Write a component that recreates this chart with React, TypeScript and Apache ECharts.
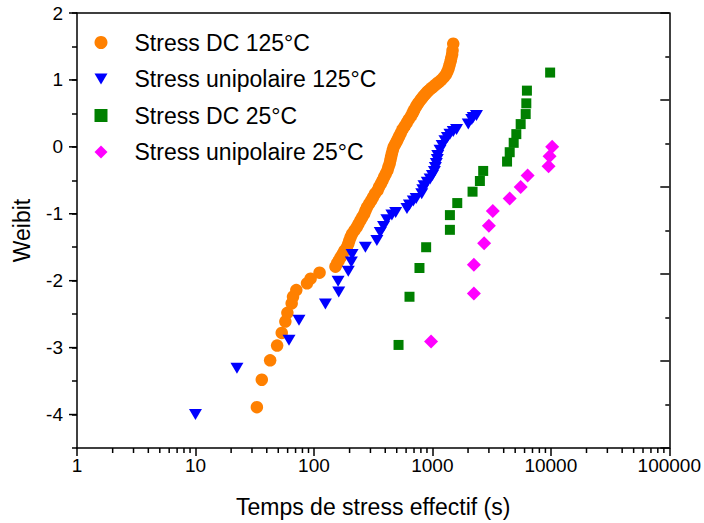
import React, { useEffect, useRef } from "react";
import * as echarts from "echarts";

const legendNames = [
  "Stress DC 125°C",
  "Stress unipolaire 125°C",
  "Stress DC 25°C",
  "Stress unipolaire 25°C",
];

const dc125: number[][] = [
  [33, -3.89], [36.3, -3.48], [42.7, -3.19], [48.9, -2.97], [53.5, -2.78],
  [57.4, -2.61], [59.7, -2.48], [64.9, -2.34], [66.6, -2.24], [71, -2.14],
  [87.4, -2.04], [93.8, -1.97], [111.6, -1.88], [152, -1.79],
  [157, -1.74], [162, -1.7], [168, -1.65], [175, -1.6], [181, -1.55], [190, -1.5],
  [195, -1.45], [199, -1.4], [204, -1.35], [210, -1.3], [220, -1.25], [230, -1.2],
  [238, -1.15], [247, -1.1], [256, -1.05], [266, -1.0], [273, -0.95], [281, -0.9],
  [293, -0.85], [305, -0.8], [316, -0.75], [328, -0.7], [345, -0.65], [355, -0.6],
  [368, -0.55], [380, -0.5], [392, -0.45], [405, -0.4], [418, -0.35], [426, -0.3],
  [436, -0.25], [442, -0.2], [448, -0.15], [455, -0.1], [463, -0.05], [472, 0.0],
  [486, 0.04], [500, 0.08], [512, 0.12], [525, 0.16], [542, 0.21], [560, 0.26],
  [584, 0.31], [608, 0.36], [632, 0.41], [660, 0.46], [680, 0.5], [692, 0.53],
  [706, 0.56], [728, 0.6], [745, 0.63], [765, 0.66], [795, 0.7], [820, 0.73],
  [845, 0.76], [875, 0.79], [905, 0.82], [930, 0.84], [970, 0.87], [1005, 0.89],
  [1050, 0.92], [1100, 0.95], [1140, 0.97], [1190, 1.0], [1250, 1.04], [1300, 1.08],
  [1335, 1.12], [1370, 1.17], [1395, 1.22], [1425, 1.28], [1445, 1.33], [1468, 1.38],
  [1480, 1.44], [1500, 1.54],
];

const uni125: number[][] = [
  [10, -4.0], [22.4, -3.31], [61.6, -2.89], [74.8, -2.59], [125, -2.35],
  [162, -2.17], [160, -2.01], [195, -1.86], [207, -1.72], [210, -1.61],
  [272, -1.5], [340, -1.4], [363, -1.28], [387, -1.19], [413, -1.09],
  [455, -1.02], [490, -0.98], [610, -0.92], [640, -0.87], [690, -0.81],
  [730, -0.77], [813, -0.7], [830, -0.64], [850, -0.58], [905, -0.53],
  [957, -0.48], [1000, -0.43], [1040, -0.37], [1060, -0.31], [1080, -0.25],
  [1100, -0.19], [1110, -0.13], [1160, -0.05], [1210, 0.02], [1277, 0.09],
  [1340, 0.14], [1406, 0.19], [1500, 0.23], [1600, 0.26], [2009, 0.34],
  [2150, 0.41], [2213, 0.44], [2356, 0.47],
];

const dc25: number[][] = [
  [518, -2.96], [641, -2.24], [778, -1.81], [886, -1.5], [1406, -1.24],
  [1406, -1.02], [1622, -0.84], [2183, -0.67], [2518, -0.51], [2685, -0.36],
  [4270, -0.22], [4496, -0.08], [4858, 0.06], [5112, 0.19], [5563, 0.34],
  [6133, 0.49], [6209, 0.65], [6281, 0.84], [9865, 1.11],
];

const uni25: number[][] = [
  [975, -2.91], [2240, -2.19], [2240, -1.76], [2735, -1.44], [2997, -1.18],
  [3238, -0.96], [4496, -0.77], [5563, -0.6], [6368, -0.43], [9566, -0.29],
  [9750, -0.14], [10260, 0.0],
];

const xMinorTicks = [
  2, 3, 4, 5, 6, 7, 8, 9,
  20, 30, 40, 50, 60, 70, 80, 90,
  200, 300, 400, 500, 600, 700, 800, 900,
  2000, 3000, 4000, 5000, 6000, 7000, 8000, 9000,
  20000, 30000, 40000, 50000, 60000, 70000, 80000, 90000,
];
const yMajorTicks = [-4, -3, -2, -1, 0, 1, 2];

const FONT = "'Liberation Sans', Arial, sans-serif";
const DOWN_TRI = "path://M0,0L12,0L6,10Z";

export default function App() {
  const ref = useRef<HTMLDivElement>(null);
  useEffect(() => {
    if (!ref.current) return;
    const chart = echarts.init(ref.current, null, { renderer: "svg" });
    const axisLine = { show: true, onZero: false, lineStyle: { color: "#000", width: 1.5 } };
    chart.setOption({
      animation: false,
      backgroundColor: "#fff",
      textStyle: { fontFamily: FONT },
      grid: { left: 77, right: 32, top: 13, bottom: 73, containLabel: false },
      legend: {
        orient: "vertical",
        left: 94.5,
        top: 31,
        padding: 0,
        itemWidth: 13,
        itemHeight: 13,
        itemGap: 13.5,
        data: legendNames,
        textStyle: {
          fontFamily: FONT,
          fontSize: 23,
          lineHeight: 23,
          color: "#000",
          padding: [0, 0, 0, 22],
        },
      },
      xAxis: [
        {
          type: "log",
          logBase: 10,
          min: 1,
          max: 100000,
          splitNumber: 5,
          name: "Temps de stress effectif (s)",
          nameLocation: "middle",
          nameGap: 47,
          nameTextStyle: { fontFamily: FONT, fontSize: 23, color: "#000" },
          axisLine,
          axisTick: { show: true, inside: false, length: 8, lineStyle: { color: "#000", width: 1.5 } },
          axisLabel: {
            fontFamily: FONT,
            fontSize: 19,
            color: "#000",
            margin: 8,
            formatter: (v: number) => String(Math.round(v)),
          },
          splitLine: { show: false },
        },
        {
          type: "value",
          position: "top",
          min: 0,
          max: 1,
          axisLine,
          axisTick: { show: false },
          axisLabel: { show: false },
          splitLine: { show: false },
        },
      ],
      yAxis: [
        {
          type: "value",
          position: "left",
          min: -4.5,
          max: 2,
          interval: 0.5,
          name: "Weibit",
          nameLocation: "middle",
          nameGap: 44,
          nameTextStyle: { fontFamily: FONT, fontSize: 23, color: "#000" },
          axisLine,
          axisTick: { show: true, inside: false, length: 5, lineStyle: { color: "#000", width: 1.5 } },
          axisLabel: {
            fontFamily: FONT,
            fontSize: 19,
            color: "#000",
            margin: 14,
            formatter: (v: number) => (Number.isInteger(v) ? String(v) : ""),
          },
          splitLine: { show: false },
        },
        {
          type: "value",
          position: "right",
          min: 0,
          max: 10,
          interval: 2,
          axisLine,
          axisTick: { show: true, inside: true, length: 9, lineStyle: { color: "#000", width: 1.5 } },
          minorTick: { show: true, splitNumber: 2, length: 4, lineStyle: { color: "#000", width: 1.5 } },
          axisLabel: { show: false },
          splitLine: { show: false },
        },
      ],
      series: [
        {
          name: legendNames[0],
          type: "scatter",
          symbol: "circle",
          symbolSize: 12.5,
          itemStyle: { color: "#FF8000", opacity: 1 },
          data: dc125,
        },
        {
          name: legendNames[1],
          type: "scatter",
          symbol: DOWN_TRI,
          symbolSize: [13, 11],
          itemStyle: { color: "#0000FF", opacity: 1 },
          data: uni125,
        },
        {
          name: legendNames[2],
          type: "scatter",
          symbol: "rect",
          symbolSize: 10,
          itemStyle: { color: "#008000", opacity: 1 },
          data: dc25,
        },
        {
          name: legendNames[3],
          type: "scatter",
          symbol: "diamond",
          symbolSize: 14,
          itemStyle: { color: "#FF00FF", opacity: 1 },
          data: uni25,
        },
        {
          type: "custom",
          silent: true,
          clip: false,
          xAxisIndex: 0,
          yAxisIndex: 0,
          data: xMinorTicks.map((v) => [v, -4.5]),
          encode: { x: 0, y: 1 },
          renderItem: (_p: any, api: any) => {
            const pt = api.coord([api.value(0), -4.5]);
            return {
              type: "line",
              shape: { x1: pt[0], y1: pt[1], x2: pt[0], y2: pt[1] + 5 },
              style: { stroke: "#000", lineWidth: 1.5 },
            };
          },
        },
        {
          type: "custom",
          silent: true,
          clip: false,
          xAxisIndex: 0,
          yAxisIndex: 0,
          data: yMajorTicks.map((v) => [1, v]),
          encode: { x: 0, y: 1 },
          renderItem: (_p: any, api: any) => {
            const pt = api.coord([1, api.value(1)]);
            return {
              type: "line",
              shape: { x1: pt[0] - 8, y1: pt[1], x2: pt[0], y2: pt[1] },
              style: { stroke: "#000", lineWidth: 1.5 },
            };
          },
        },
      ],
    });
    return () => chart.dispose();
  }, []);
  return (
    <div
      ref={ref}
      style={{ position: "fixed", left: 0, top: 0, width: 704, height: 523 }}
    />
  );
}
